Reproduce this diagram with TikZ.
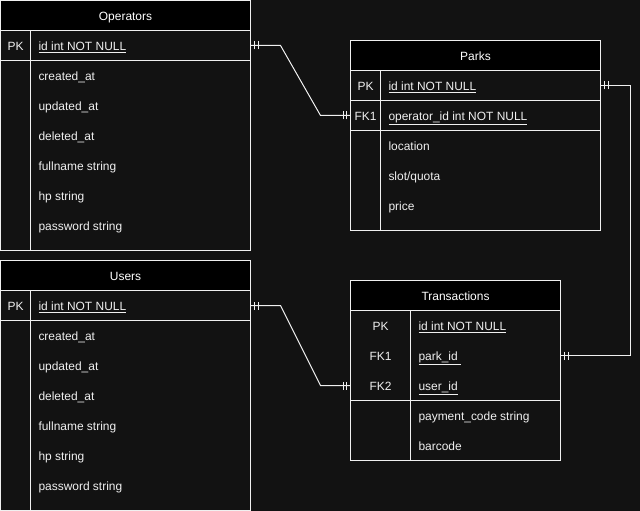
\documentclass[tikz,border=0pt]{standalone}
\usepackage{fontspec}
\setmainfont{Liberation Sans}
\usepackage{tikz}
\usetikzlibrary{
    positioning,         % For placing nodes relative to each other
    calc,                % For coordinate calculations
    decorations.markings % For the mandatory-one bars on the relations
}
\definecolor{canvasbg}{HTML}{121212}
\definecolor{linecol}{HTML}{F0F0F0}
\definecolor{textcol}{HTML}{F0F0F0}
\tikzset{
    % Outer frame of an entity
    table_box/.style={
        rectangle, draw=linecol, line width=1bp, fill=canvasbg,
        anchor=north west, inner sep=0pt, outer sep=0pt
    },
    % Black header row with the entity name
    table_title/.style={
        rectangle, draw=linecol, line width=1bp, fill=black,
        anchor=north west, minimum height=30bp, inner sep=0pt, outer sep=0pt,
        text height=11bp, text depth=1bp,
        text=white, font=\fontsize{12}{14}\selectfont
    },
    % PK / FK column
    key_text/.style={
        inner sep=0pt, text height=11bp, text depth=1bp,
        text=textcol, font=\fontsize{12}{14}\selectfont
    },
    % Attribute column
    field_text/.style={
        anchor=west, inner xsep=8bp, inner ysep=0pt, outer sep=0pt,
        text height=11bp, text depth=1bp,
        text=textcol, font=\fontsize{12}{14}\selectfont
    },
    grid_line/.style={draw=linecol, line width=1bp},
    % One-and-only-one on both ends
    relation/.style={
        draw=linecol, line width=1bp,
        postaction={decorate, decoration={markings,
            mark=at position 4bp with {\draw[linecol, line width=1bp] (0,-4bp) -- (0,4bp);},
            mark=at position 7.5bp with {\draw[linecol, line width=1bp] (0,-4bp) -- (0,4bp);},
            mark=at position -4bp with {\draw[linecol, line width=1bp] (0,-4bp) -- (0,4bp);},
            mark=at position -7.5bp with {\draw[linecol, line width=1bp] (0,-4bp) -- (0,4bp);}
        }}
    }
}

\begin{document}
\begin{tikzpicture}[x=1bp, y=-1bp]

\fill[canvasbg] (-0.5,-0.5) rectangle (639.5,510.5);
\useasboundingbox (-0.5,-0.5) rectangle (639.5,510.5);

% --- OPERATORS ---
\node[table_box, minimum width=250bp, minimum height=250bp] (operators) at (0,0) {};
\node[table_title, minimum width=250bp] (operators_title) at (operators.north west) {Operators};
\draw[grid_line] (0,60) -- (250,60);
\draw[grid_line] (30,30) -- (30,250);
\node[key_text] (op_pk) at (15,45) {PK};
\node[field_text] (op_id) at (30,45) {\underline{id int NOT NULL}};
\foreach \field [count=\i] in {created\_at, updated\_at, deleted\_at, fullname string, hp string, password string}
    \node[field_text] (op_f\i) at (30,45+30*\i) {\field};

% --- USERS ---
\node[table_box, minimum width=250bp, minimum height=250bp] (users) at (0,260) {};
\node[table_title, minimum width=250bp] (users_title) at (users.north west) {Users};
\draw[grid_line] (0,320) -- (250,320);
\draw[grid_line] (30,290) -- (30,510);
\node[key_text] (us_pk) at (15,305) {PK};
\node[field_text] (us_id) at (30,305) {\underline{id int NOT NULL}};
\foreach \field [count=\i] in {created\_at, updated\_at, deleted\_at, fullname string, hp string, password string}
    \node[field_text] (us_f\i) at (30,305+30*\i) {\field};

% --- PARKS ---
\node[table_box, minimum width=250bp, minimum height=190bp] (parks) at (350,40) {};
\node[table_title, minimum width=250bp] (parks_title) at (parks.north west) {Parks};
\draw[grid_line] (350,100) -- (600,100);
\draw[grid_line] (350,130) -- (600,130);
\draw[grid_line] (380,70) -- (380,230);
\node[key_text] (pk_pk) at (365,85) {PK};
\node[field_text] (pk_id) at (380,85) {\underline{id int NOT NULL}};
\node[key_text] (pk_fk1) at (365,115) {FK1};
\node[field_text] (pk_opid) at (380,115) {\underline{operator\_id int NOT NULL}};
\foreach \field [count=\i] in {location, slot/quota, price}
    \node[field_text] (pk_f\i) at (380,115+30*\i) {\field};

% --- TRANSACTIONS ---
\node[table_box, minimum width=210bp, minimum height=180bp] (transactions) at (350,280) {};
\node[table_title, minimum width=210bp] (transactions_title) at (transactions.north west) {Transactions};
\draw[grid_line] (350,400) -- (560,400);
\draw[grid_line] (410,310) -- (410,460);
\node[key_text] (tr_pk) at (380,325) {PK};
\node[field_text] (tr_id) at (410,325) {\underline{id int NOT NULL}};
\node[key_text] (tr_fk1) at (380,355) {FK1};
\node[field_text] (tr_park) at (410,355) {\underline{park\_id\ }};
\node[key_text] (tr_fk2) at (380,385) {FK2};
\node[field_text] (tr_user) at (410,385) {\underline{user\_id}};
\foreach \field [count=\i] in {payment\_code string, barcode}
    \node[field_text] (tr_f\i) at (410,385+30*\i) {\field};

% --- RELATIONS ---
\draw[relation] (op_id -| operators.east) -- ++(30,0)
    -- ($(pk_opid -| parks.west)+(-30,0)$) -- (pk_opid -| parks.west);
\draw[relation] (us_id -| users.east) -- ++(30,0)
    -- ($(tr_user -| transactions.west)+(-30,0)$) -- (tr_user -| transactions.west);
\draw[relation] (pk_id -| parks.east) -- ++(30,0) |- (tr_park -| transactions.east);

\end{tikzpicture}
\end{document}
